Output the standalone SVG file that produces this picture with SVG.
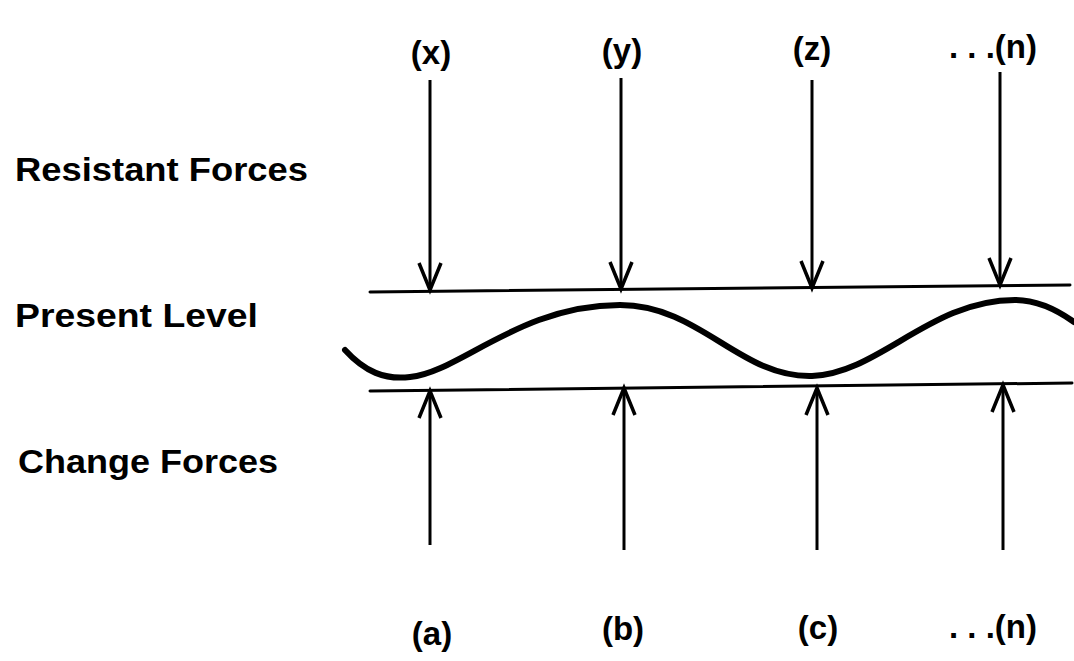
<svg xmlns="http://www.w3.org/2000/svg" width="1074" height="661" viewBox="0 0 1074 661">
<style>
.t{font-family:"Liberation Sans","DejaVu Sans",sans-serif;font-weight:bold;fill:#000}
.lab{font-size:33px}
.tag{font-size:33px;text-anchor:middle}
.ln{stroke:#000;stroke-width:3;fill:none;stroke-linecap:round}
.ar{stroke:#000;stroke-width:3;fill:none;marker-end:url(#v)}
.wave{stroke:#000;stroke-width:6;fill:none;stroke-linecap:round}
</style>
<defs>
<marker id="v" markerUnits="userSpaceOnUse" viewBox="-30 -14 32 28" refX="0" refY="0" markerWidth="32" markerHeight="28" orient="auto" overflow="visible">
<path d="M-27,-11 L0,0 L-27,11" stroke="#000" stroke-width="3.5" fill="none" stroke-linejoin="miter"/>
</marker>
</defs>
<g id="label-resistant"><text class="t lab" x="15" y="181" textLength="293" lengthAdjust="spacingAndGlyphs">Resistant Forces</text></g>
<g id="label-present"><text class="t lab" x="15" y="327" textLength="243" lengthAdjust="spacingAndGlyphs">Present Level</text></g>
<g id="label-change"><text class="t lab" x="18" y="473" textLength="260" lengthAdjust="spacingAndGlyphs">Change Forces</text></g>
<g id="tags-top">
<text class="t tag" x="431" y="64">(x)</text>
<text class="t tag" x="622" y="62">(y)</text>
<text class="t tag" x="812" y="60">(z)</text>
<text class="t tag" x="993" y="58">. . .(n)</text>
</g>
<g id="tags-bottom">
<text class="t tag" x="432" y="645">(a)</text>
<text class="t tag" x="623" y="640">(b)</text>
<text class="t tag" x="818" y="639">(c)</text>
<text class="t tag" x="993" y="638">. . .(n)</text>
</g>
<g id="level">
<path class="ln" d="M370,292 L1070,285"/>
<path class="ln" d="M370,391 L1072,383"/>
<path class="wave" d="M345,350 C365,372 385,380 410,377 C460,372 520,305 620,305 C700,305 740,378 812,376 C880,373 930,300 1015,300 C1040,300 1060,312 1074,322"/>
</g>
<g id="connectors">
<path class="ar" d="M430,80 L430,290"/>
<path class="ar" d="M621,78 L621,289"/>
<path class="ar" d="M812,80 L812,288"/>
<path class="ar" d="M1000,72 L1000,285"/>
<path class="ar" d="M430,545 L430,391"/>
<path class="ar" d="M624,550 L624,388"/>
<path class="ar" d="M817,550 L817,388"/>
<path class="ar" d="M1003,550 L1003,385"/>
</g>
</svg>
